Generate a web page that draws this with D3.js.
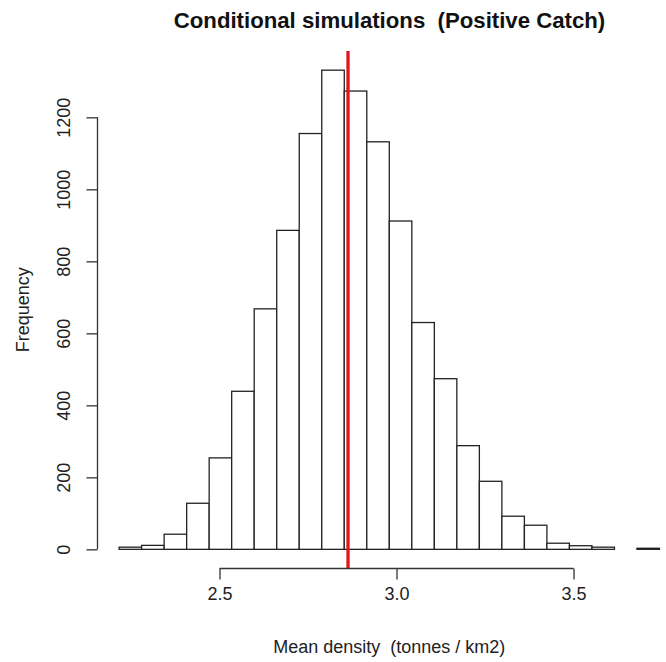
<!DOCTYPE html>
<html>
<head>
<meta charset="utf-8">
<script src="https://cdn.jsdelivr.net/npm/d3@7"></script>
<style>
  html, body { margin: 0; padding: 0; background: #fff; }
  svg { display: block; font-family: "Liberation Sans", Arial, sans-serif; }
  svg text { white-space: pre; }
</style>
</head>
<body>
<svg id="chart" width="666" height="662"></svg>
<script>
// ---- data ----
const breaks = [2.2164, 2.2800, 2.3436, 2.4072, 2.4708, 2.5344, 2.5980, 2.6616, 2.7252,
                2.7888, 2.8524, 2.9160, 2.9796, 3.0432, 3.1068, 3.1704, 3.2340, 3.2976,
                3.3612, 3.4248, 3.4884, 3.5520, 3.6156, 3.6792, 3.7428];
const counts = [6, 11, 42, 128, 254, 439, 668, 886, 1155, 1331, 1273, 1132,
                912, 630, 474, 288, 189, 92, 67, 17, 10, 6, 0, 3];
const xTicks = [2.5, 3.0, 3.5];
const yTicks = [0, 200, 400, 600, 800, 1000, 1200];
const meanValue = 2.863;
const titleText = "Conditional simulations  (Positive Catch)";
const xLabel = "Mean density  (tonnes / km2)";
const yLabel = "Frequency";

// ---- layout ----
const plot = { left: 97.5, right: 681.1, top: 51, bottom: 568.5 };
const svg = d3.select("#chart");

const bMin = d3.min(breaks), bMax = d3.max(breaks);
const xPad = 0.04 * (bMax - bMin);
const x = d3.scaleLinear().domain([bMin - xPad, bMax + xPad]).range([plot.left, plot.right]);
const cMax = d3.max(counts);
const yPad = 0.04 * cMax;
const y = d3.scaleLinear().domain([-yPad, cMax + yPad]).range([plot.bottom, plot.top]);

const bins = counts.map((c, i) => ({ x0: breaks[i], x1: breaks[i + 1], count: c }));

// bars
svg.append("g").selectAll("rect").data(bins).join("rect")
  .attr("x", d => x(d.x0))
  .attr("y", d => y(d.count))
  .attr("width", d => x(d.x1) - x(d.x0))
  .attr("height", d => y(0) - y(d.count))
  .attr("fill", "#fff")
  .attr("stroke", "#222")
  .attr("stroke-width", 1.3);

// mean line
svg.append("line")
  .attr("x1", x(meanValue)).attr("x2", x(meanValue))
  .attr("y1", plot.top).attr("y2", plot.bottom)
  .attr("stroke", "#e2141c").attr("stroke-width", 3.3);

// x axis
const xAxis = d3.axisBottom(x).tickValues(xTicks).tickFormat(d3.format(".1f"))
  .tickSize(11).tickSizeOuter(0).tickPadding(8);
const gx = svg.append("g").attr("transform", `translate(0,${plot.bottom})`).call(xAxis);
gx.select(".domain").attr("d", `M${x(xTicks[0])},0H${x(xTicks[xTicks.length - 1])}`);
gx.selectAll("path, line").attr("stroke", "#333").attr("stroke-width", 1.3);
gx.selectAll("text").attr("font-size", 18).attr("fill", "#222")
  .attr("font-family", "Liberation Sans, Arial, sans-serif");

// y axis
const yAxis = d3.axisLeft(y).tickValues(yTicks).tickFormat(d3.format("d"))
  .tickSize(11).tickSizeOuter(0);
const gy = svg.append("g").attr("transform", `translate(${plot.left},0)`).call(yAxis);
gy.select(".domain").attr("d", `M0,${y(yTicks[0])}V${y(yTicks[yTicks.length - 1])}`);
gy.selectAll("path, line").attr("stroke", "#333").attr("stroke-width", 1.3);
gy.selectAll(".tick text")
  .attr("x", null).attr("dy", null)
  .attr("text-anchor", "middle")
  .attr("dominant-baseline", "central")
  .attr("transform", "translate(-33.5,0) rotate(-90)")
  .attr("font-size", 18).attr("fill", "#222")
  .attr("font-family", "Liberation Sans, Arial, sans-serif");

// title
svg.append("text")
  .attr("x", 389.5)
  .attr("y", 20.5)
  .attr("text-anchor", "middle")
  .attr("dominant-baseline", "central")
  .attr("font-size", 22.2).attr("font-weight", "bold").attr("fill", "#111")
  .text(titleText);

// x label
svg.append("text")
  .attr("x", (plot.left + plot.right) / 2)
  .attr("y", 646.5)
  .attr("text-anchor", "middle")
  .attr("dominant-baseline", "central")
  .attr("font-size", 18).attr("fill", "#222")
  .text(xLabel);

// y label
svg.append("text")
  .attr("transform", `translate(23,${(plot.top + plot.bottom) / 2}) rotate(-90)`)
  .attr("text-anchor", "middle")
  .attr("dominant-baseline", "central")
  .attr("font-size", 18).attr("fill", "#222")
  .text(yLabel);
</script>
</body>
</html>
